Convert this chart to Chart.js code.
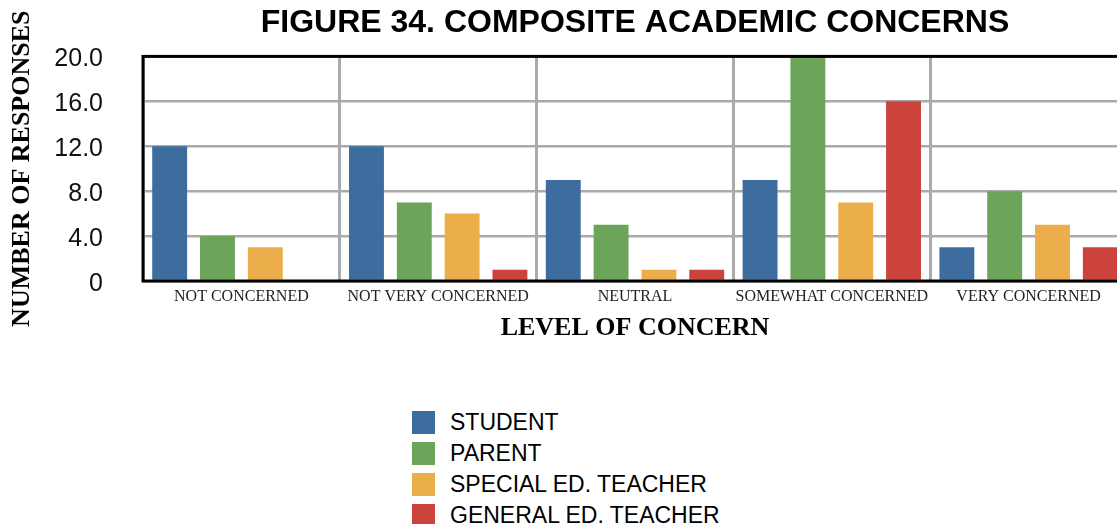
<!DOCTYPE html>
<html>
<head>
<meta charset="utf-8">
<title>Composite Academic Concerns</title>
<script src="https://cdn.jsdelivr.net/npm/chart.js@4.4.1/dist/chart.umd.min.js"></script>
<style>
  html, body { margin: 0; padding: 0; background: #fff; overflow: hidden; }
  body { width: 1117px; height: 524px; position: relative; }
  #wrap { position: absolute; left: 0; top: 0; width: 1135px; height: 350px; }
  #legend { position: absolute; left: 412px; top: 407px; font-family: "Liberation Sans", Arial, sans-serif; font-size: 23px; color: #000; }
  .item { display: flex; align-items: center; height: 31px; }
  .box { width: 23px; height: 23px; margin-right: 15px; }
</style>
</head>
<body>
<div id="wrap"><canvas id="chart" width="1135" height="350"></canvas></div>
<div id="legend"></div>
<script>
// categories and response counts per group
const levels = ['NOT CONCERNED', 'NOT VERY CONCERNED', 'NEUTRAL', 'SOMEWHAT CONCERNED', 'VERY CONCERNED'];
const groupNames = ['STUDENT', 'PARENT', 'SPECIAL ED. TEACHER', 'GENERAL ED. TEACHER'];
const student = [12, 12, 9, 9, 3];
const parent = [4, 7, 5, 20, 8];
const specialEd = [3, 6, 1, 7, 5];
const generalEd = [0, 1, 1, 16, 3];
const colors = ['#3d6c9e', '#6ca55a', '#ecae4a', '#cb433c'];

const series = [student, parent, specialEd, generalEd];

// black frame around the plot area
const frame = {
  id: 'frame',
  afterDraw(chart) {
    const { ctx, chartArea: a } = chart;
    ctx.save();
    ctx.strokeStyle = '#000';
    ctx.lineWidth = 3;
    ctx.strokeRect(a.left, a.top, a.right - a.left, a.bottom - a.top);
    ctx.restore();
  }
};

new Chart(document.getElementById('chart'), {
  type: 'bar',
  data: {
    labels: levels,
    datasets: series.map((d, i) => ({
      label: groupNames[i],
      data: d,
      backgroundColor: colors[i],
      categoryPercentage: 0.972,
      barPercentage: 0.73
    }))
  },
  options: {
    responsive: false,
    animation: false,
    layout: { padding: { right: 8 } },
    plugins: {
      legend: { display: false },
      tooltip: { enabled: false },
      title: {
        display: true,
        fullSize: false,
        text: 'FIGURE 34. COMPOSITE ACADEMIC CONCERNS',
        color: '#000',
        font: { family: '"Liberation Sans", Arial, sans-serif', size: 32, weight: 'bold' },
        padding: { top: 4, bottom: 14 }
      }
    },
    scales: {
      x: {
        afterFit: s => { s.height = 69; },
        grid: { color: '#aaa', lineWidth: 3, drawTicks: false },
        border: { display: false },
        ticks: {
          color: '#222',
          padding: 6,
          maxRotation: 0,
          font: { family: '"Liberation Serif", "Times New Roman", serif', size: 16 }
        },
        title: {
          display: true,
          text: 'LEVEL OF CONCERN',
          color: '#000',
          font: { family: '"Liberation Serif", "Times New Roman", serif', size: 26, weight: 'bold' },
          padding: { top: 0, bottom: 6 }
        }
      },
      y: {
        min: 0,
        max: 20,
        afterFit: s => { s.width = 143; },
        grid: { color: '#aaa', lineWidth: 2.5, drawTicks: false },
        border: { display: false },
        ticks: {
          stepSize: 2,
          padding: 40,
          labelOffset: 3,
          color: '#111',
          font: { family: '"Liberation Sans", Arial, sans-serif', size: 25 },
          callback: v => (v % 4 !== 0 ? '' : v === 0 ? '0' : v.toFixed(1))
        },
        title: {
          display: true,
          text: 'NUMBER OF RESPONSES',
          color: '#000',
          font: { family: '"Liberation Serif", "Times New Roman", serif', size: 26, weight: 'bold' },
          padding: { top: 7, bottom: 0 }
        }
      }
    }
  },
  plugins: [frame]
});

// legend stacked under the chart
const legend = document.getElementById('legend');
groupNames.forEach((name, i) => {
  const row = document.createElement('div');
  row.className = 'item';
  const box = document.createElement('span');
  box.className = 'box';
  box.style.background = colors[i];
  row.appendChild(box);
  row.appendChild(document.createTextNode(name));
  legend.appendChild(row);
});
</script>
</body>
</html>
